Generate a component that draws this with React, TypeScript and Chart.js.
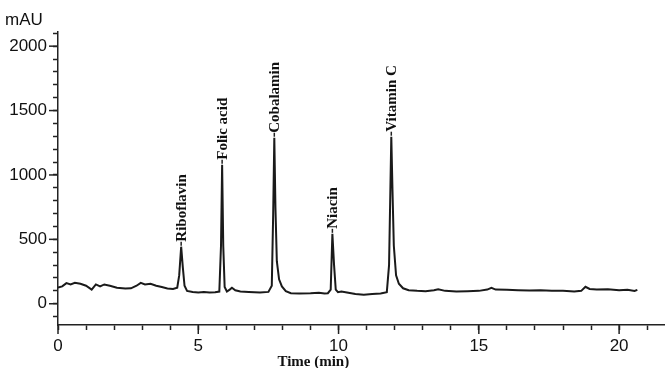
import React, { useEffect, useRef } from "react";
import { Chart, registerables } from "chart.js";

Chart.register(...registerables);

const times = [
  0.0, 0.15, 0.3, 0.45, 0.6, 0.8, 1.0, 1.2, 1.35, 1.5, 1.65, 1.85, 2.1, 2.4, 2.6, 2.8, 2.95, 3.1, 3.3, 3.5, 3.7, 3.9, 4.1,
  4.25, 4.32, 4.39, 4.45, 4.51, 4.6, 4.8, 5.0, 5.2, 5.4, 5.6,
  5.75, 5.81, 5.85, 5.89, 5.94, 6.02, 6.12, 6.2, 6.32, 6.5, 6.8, 7.0, 7.2,
  7.5, 7.62, 7.67, 7.71, 7.75, 7.8, 7.88, 7.98, 8.12, 8.3, 8.6, 9.0, 9.3, 9.5,
  9.62, 9.72, 9.78, 9.84, 9.9, 9.98, 10.1, 10.3, 10.6, 10.9, 11.2, 11.5,
  11.72, 11.8, 11.84, 11.88, 11.92, 11.97, 12.05, 12.15, 12.3, 12.5, 12.8, 13.1, 13.4, 13.55, 13.8,
  14.2, 14.6, 15.0, 15.3, 15.45, 15.6, 16.0, 16.4, 16.8, 17.2, 17.6, 18.0, 18.4, 18.65, 18.8, 18.95,
  19.2, 19.6, 20.0, 20.3, 20.55, 20.65,
];

const signal = [
  125, 135, 160, 150, 162, 155, 140, 110, 150, 135, 150, 140, 125, 118, 120, 140, 162, 150, 155, 140, 130, 118, 115,
  125, 220, 443, 280, 140, 100, 92, 88, 92, 88, 90,
  95, 450, 1079, 450, 130, 95, 110, 124, 105, 95, 92, 90, 88,
  92, 140, 700, 1289, 750, 330, 190, 135, 98, 82, 80, 82, 85, 80,
  82, 110, 543, 300, 110, 90, 95, 88, 75, 70, 75, 80,
  90, 300, 800, 1297, 900, 450, 220, 155, 120, 105, 100, 98, 105, 112, 100,
  95, 97, 100, 110, 124, 110, 108, 105, 102, 105, 100, 100, 95, 100, 132, 115,
  110, 112, 105, 108, 100, 108,
];

const peakNames = ["Riboflavin", "Folic acid", "Cobalamin", "Niacin", "Vitamin C"];
const peakTimes = [4.39, 5.85, 7.71, 9.78, 11.88];

const yLabelStep = 500;
const xLabelStep = 5;

const TICK_FONT = { family: "'Liberation Sans', Arial, sans-serif", size: 17 };

export default function App() {
  const ref = useRef<HTMLCanvasElement | null>(null);

  useEffect(() => {
    if (!ref.current) return;
    const decorPlugin = {
      id: "decor",
      afterDraw(chart: any) {
        const ctx = chart.ctx;
        const xs = chart.scales.x;
        const ys = chart.scales.y;
        const area = chart.chartArea;
        ctx.save();
        ctx.strokeStyle = "#222";
        ctx.lineWidth = 1.5;
        ys.ticks.forEach((t: any) => {
          if (t.value % yLabelStep === 0) {
            const py = ys.getPixelForValue(t.value);
            ctx.beginPath();
            ctx.moveTo(area.left - 9, py);
            ctx.lineTo(area.left, py);
            ctx.stroke();
          }
        });
        xs.ticks.forEach((t: any) => {
          if (t.value % xLabelStep === 0) {
            const px = xs.getPixelForValue(t.value);
            ctx.beginPath();
            ctx.moveTo(px, area.bottom);
            ctx.lineTo(px, area.bottom + 9);
            ctx.stroke();
          }
        });
        ctx.fillStyle = "#111";
        ctx.font = "bold 15px 'Liberation Serif', 'Times New Roman', serif";
        peakNames.forEach((name, i) => {
          const idx = times.indexOf(peakTimes[i]);
          const px = xs.getPixelForValue(peakTimes[i]);
          const py = ys.getPixelForValue(signal[idx]);
          ctx.beginPath();
          ctx.lineWidth = 1.5;
          ctx.moveTo(px, py - 1);
          ctx.lineTo(px, py - 5);
          ctx.stroke();
          ctx.save();
          ctx.translate(px, py - 5);
          ctx.rotate(-Math.PI / 2);
          ctx.textAlign = "left";
          ctx.textBaseline = "middle";
          ctx.fillText(name, 0, 1);
          ctx.restore();
        });
        ctx.font = "bold 15px 'Liberation Serif', 'Times New Roman', serif";
        ctx.textAlign = "center";
        ctx.textBaseline = "middle";
        ctx.fillText("Time (min)", xs.getPixelForValue(9.1), 362);
        ctx.font = "17px 'Liberation Sans', Arial, sans-serif";
        ctx.textAlign = "left";
        ctx.fillText("mAU", 5, 20);
        ctx.restore();
      },
    };

    const chart = new Chart(ref.current, {
      type: "line",
      data: {
        datasets: [
          {
            data: times.map((t, i) => ({ x: t, y: signal[i] })),
            borderColor: "#1a1a1a",
            borderWidth: 2,
            pointRadius: 0,
            tension: 0,
            fill: false,
          },
        ],
      },
      options: {
        animation: false,
        responsive: false,
        maintainAspectRatio: false,
        layout: { padding: { top: 32, right: 5, left: 0, bottom: 0 } },
        plugins: { legend: { display: false }, tooltip: { enabled: false } },
        scales: {
          x: {
            type: "linear",
            min: 0,
            max: 21.6,
            afterFit: (s: any) => {
              s.height = 43;
            },
            border: { color: "#222", width: 1.5 },
            grid: { drawOnChartArea: false, drawTicks: true, tickLength: 5, tickColor: "#222", tickWidth: 1.5 },
            ticks: {
              stepSize: 1,
              includeBounds: false,
              autoSkip: false,
              maxRotation: 0,
              padding: 6,
              color: "#111",
              font: TICK_FONT,
              callback: (v: any) => (v % xLabelStep === 0 ? String(v) : ""),
            },
          },
          y: {
            type: "linear",
            min: -165,
            max: 2110,
            afterFit: (s: any) => {
              s.width = 58;
            },
            border: { color: "#222", width: 1.5 },
            grid: { drawOnChartArea: false, drawTicks: true, tickLength: 5, tickColor: "#222", tickWidth: 1.5 },
            ticks: {
              stepSize: 100,
              includeBounds: false,
              autoSkip: false,
              padding: 6,
              color: "#111",
              font: TICK_FONT,
              callback: (v: any) => (v % yLabelStep === 0 ? String(v) : ""),
            },
          },
        },
      },
      plugins: [decorPlugin],
    });
    return () => chart.destroy();
  }, []);

  return (
    <div style={{ position: "absolute", left: 0, top: 0, width: 669, height: 368, background: "#fff" }}>
      <canvas ref={ref} width={669} height={368} style={{ width: 669, height: 368 }} />
    </div>
  );
}
